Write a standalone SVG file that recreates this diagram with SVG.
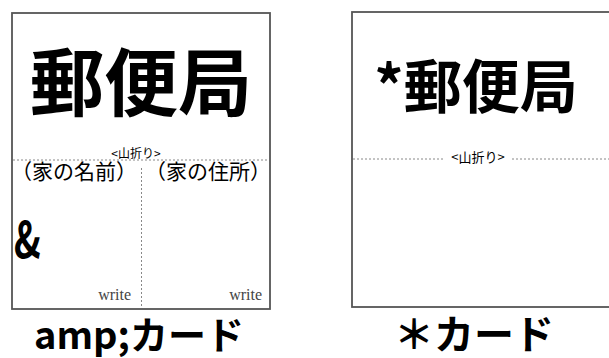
<svg xmlns="http://www.w3.org/2000/svg" width="609" height="358" viewBox="0 0 609 358">
<style>
.card{fill:#fff;stroke:#555;stroke-width:1.8}
.fold{stroke:#888;stroke-width:1;stroke-dasharray:2,2;fill:none}
.jp{font-family:"Noto Sans CJK JP","Noto Sans",sans-serif;fill:#000}
.b{font-weight:bold}
.w{font-family:"Liberation Serif",serif;font-size:16px;fill:#444}
</style>
<rect width="609" height="358" fill="#fff"/>
<g id="card-amp">
<rect class="card" x="12" y="13" width="258" height="296"/>
<line class="fold" x1="13" y1="160" x2="269" y2="160"/>
<line class="fold" x1="141.5" y1="168" x2="141.5" y2="308"/>
<text class="jp b" x="141" y="110" font-size="74" text-anchor="middle">郵便局</text>
<text class="jp" x="136" y="158" font-size="12" text-anchor="middle">&lt;山折り&gt;</text>
<text class="jp" x="74" y="179" font-size="21" text-anchor="middle">（家の名前）</text>
<text class="jp" x="208" y="179" font-size="21" text-anchor="middle">（家の住所）</text>
<text class="jp b" x="14" y="258" font-size="50" transform="translate(14 0) scale(0.72 1) translate(-14 0)">&amp;</text>
<text class="w" x="131" y="300" text-anchor="end">write</text>
<text class="w" x="262" y="300" text-anchor="end">write</text>
</g>
<g id="card-star">
<rect class="card" x="352" y="12" width="270" height="295"/>
<line class="fold" x1="353" y1="159" x2="445" y2="159"/>
<line class="fold" x1="512" y1="159" x2="609" y2="159"/>
<text class="jp b" x="476" y="108" font-size="58" text-anchor="middle">*郵便局</text>
<text class="jp" x="478" y="162" font-size="13" text-anchor="middle">&lt;山折り&gt;</text>
</g>
<g id="labels">
<text class="jp b" x="139" y="349" font-size="38" text-anchor="middle">amp;カード</text>
<text class="jp b" x="474" y="349" font-size="40" text-anchor="middle">＊カード</text>
</g>
</svg>
